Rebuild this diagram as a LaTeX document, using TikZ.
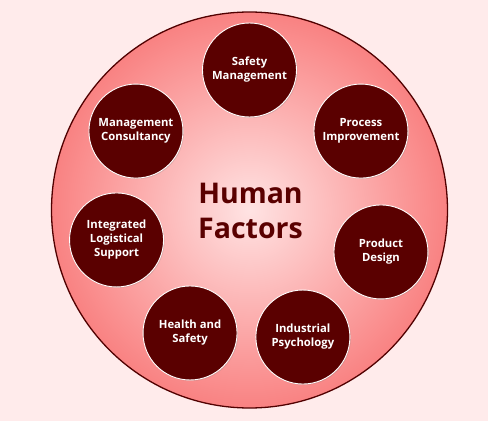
\documentclass[tikz,border=0pt]{standalone}
\usepackage{fontspec}
\setmainfont{Open Sans}
\usepackage{tikz}
\usetikzlibrary{shadows}
\definecolor{bgpink}{HTML}{FFEBEB}
\definecolor{maroon}{HTML}{5A0000}
\definecolor{salmon}{HTML}{F98282}
\definecolor{blush}{HTML}{FFE3E3}
\tikzstyle{hub}=[circle, draw=maroon!90!black, line width=1.3pt,
minimum size=396pt, inner color=blush, outer color=salmon]
\tikzstyle{topic}=[circle, fill=maroon, draw=white, line width=0.9pt,
minimum size=94pt, text=white, align=center,
font=\fontsize{11.3}{14}\selectfont\bfseries,
drop shadow={opacity=0.25, shadow xshift=1pt, shadow yshift=-1pt}]

\begin{document}
\begin{tikzpicture}
	[x=1pt, y=1pt, title/.style = {text=maroon, align=center,
	font=\fontsize{28.5}{35}\selectfont\bfseries}]
	\fill[bgpink] (-249.5,-211) rectangle (238.5,210);
	\node[hub] (0) at (0,0) {};
	\node[title] (t) at (1,-0.5) {Human\\Factors};

	\node[topic] (1) at (90:140) {Safety\\Management};
	\node[topic] (2) at (35.3:136.6) {Process\\Improvement};
	\node[topic] (3) at (-17.7:138) {Product\\Design};
	\node[topic] (4) at (-67.2:137.8) {Industrial\\Psychology};
	\node[topic] (5) at (-115.8:136.6) {Health and\\Safety};
	\node[topic] (6) at (-167.3:136.3) {Integrated\\Logistical\\Support};
	\node[topic] (7) at (145.2:138.3) {Management\\Consultancy};
\end{tikzpicture}
\end{document}
